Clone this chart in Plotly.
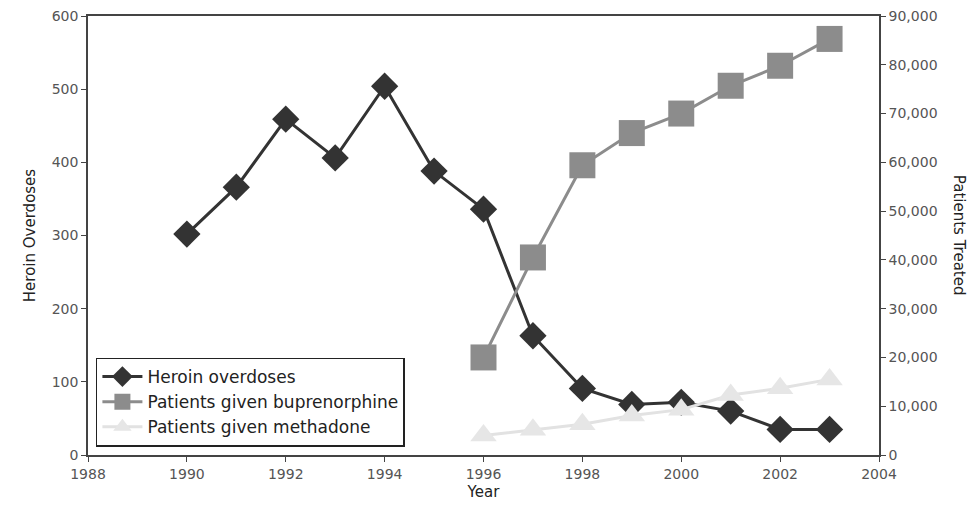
import plotly.graph_objects as go

years_heroin = [1990, 1991, 1992, 1993, 1994, 1995, 1996, 1997, 1998, 1999, 2000, 2001, 2002, 2003]
heroin_overdoses = [302, 366, 459, 406, 504, 388, 336, 163, 91, 69, 72, 60, 35, 35]

years_treat = [1996, 1997, 1998, 1999, 2000, 2001, 2002, 2003]
buprenorphine = [20000, 40500, 59400, 66000, 70000, 75700, 79800, 85300]
methadone = [4000, 5200, 6300, 8100, 9300, 12300, 13700, 15500]

x_ticks = list(range(1988, 2005, 2))
font_family = "DejaVu Sans, Liberation Sans, sans-serif"
tick_font = dict(size=14, color="#555555")
title_font = dict(size=15, color="#222222")

fig = go.Figure()

fig.add_trace(go.Scatter(
    x=years_heroin, y=heroin_overdoses, name="Heroin overdoses",
    mode="lines+markers",
    line=dict(color="#333333", width=3),
    marker=dict(symbol="diamond", size=21, color="#333333"),
))
fig.add_trace(go.Scatter(
    x=years_treat, y=buprenorphine, name="Patients given buprenorphine",
    mode="lines+markers", yaxis="y2",
    line=dict(color="#8c8c8c", width=3),
    marker=dict(symbol="square", size=26, color="#8c8c8c"),
))
fig.add_trace(go.Scatter(
    x=years_treat, y=methadone, name="Patients given methadone",
    mode="lines+markers", yaxis="y2",
    line=dict(color="#e2e2e2", width=3),
    marker=dict(symbol="triangle-up", size=23, color="#e6e6e6"),
))

# page body has an 8px margin, so the figure is shrunk to fit the window
fig.update_layout(
    width=967, height=507,
    margin=dict(l=80, r=96, t=8, b=60),
    paper_bgcolor="white", plot_bgcolor="white",
    font=dict(family=font_family, size=14, color="#333333"),
    showlegend=True,
    legend=dict(
        x=0.01, y=0.222, xanchor="left", yanchor="top",
        bgcolor="white", bordercolor="#222222", borderwidth=1.5,
        font=dict(size=17, color="#222222"),
        tracegroupgap=0, itemwidth=40,
    ),
    xaxis=dict(
        range=[1988, 2004], tickvals=x_ticks, automargin=False,
        showgrid=False, zeroline=False, tickfont=tick_font,
        showline=True, linecolor="#444444", linewidth=1.5, mirror=True,
        ticks="outside", ticklen=5, tickcolor="#444444",
        title=dict(text="Year", font=title_font, standoff=6),
    ),
    yaxis=dict(
        range=[0, 600], dtick=100, automargin=False, ticklabeloverflow="allow",
        showgrid=False, zeroline=False, tickfont=tick_font,
        showline=True, linecolor="#444444", linewidth=1.5,
        ticks="outside", ticklen=5, tickcolor="#444444",
        title=dict(text="Heroin Overdoses", font=title_font, standoff=12),
    ),
    yaxis2=dict(
        range=[0, 90000], dtick=10000, tickformat=",", automargin=False,
        ticklabeloverflow="allow",
        overlaying="y", side="right", tickfont=tick_font,
        showgrid=False, zeroline=False,
        showline=True, linecolor="#444444", linewidth=1.5,
        ticks="outside", ticklen=5, tickcolor="#444444",
    ),
    annotations=[dict(
        text="Patients Treated", textangle=90,
        xref="paper", yref="paper", x=1.102, y=0.5,
        xanchor="center", yanchor="middle", showarrow=False,
        font=title_font,
    )],
)

fig.write_html("out.html")
